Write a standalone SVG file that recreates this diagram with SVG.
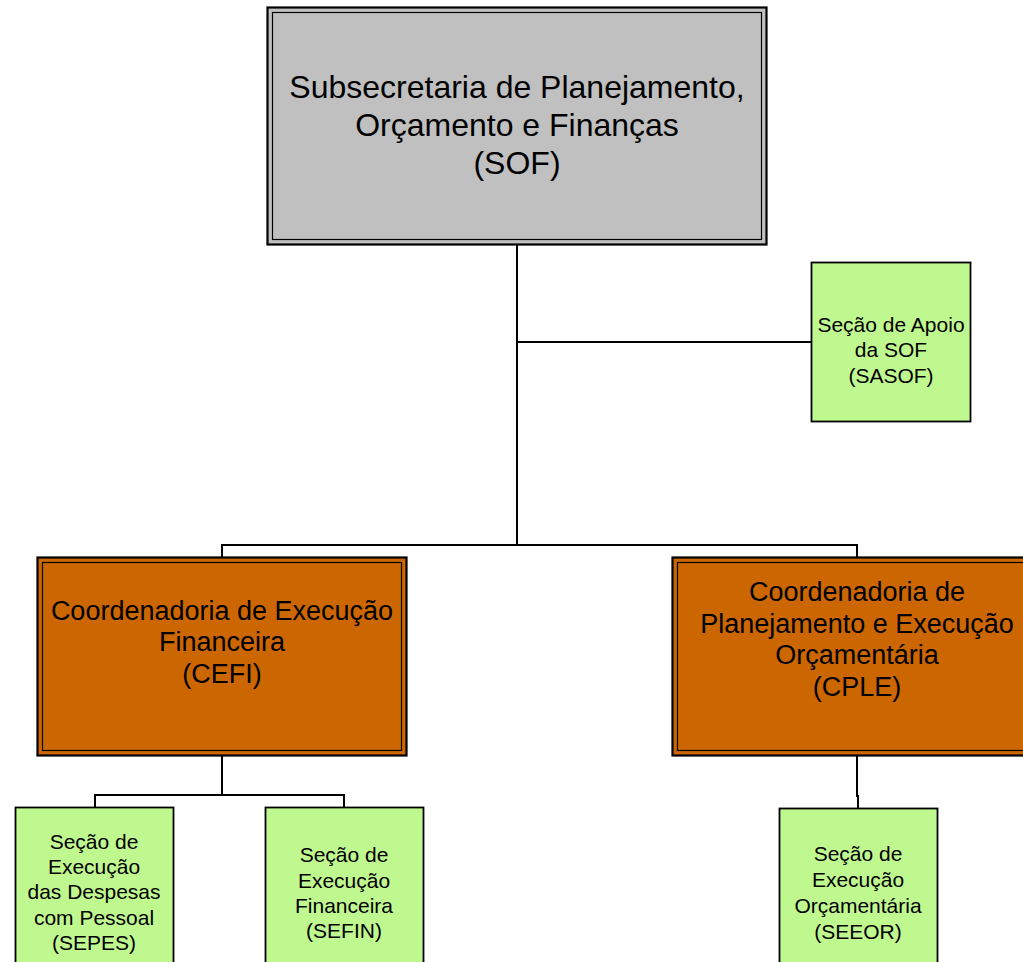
<svg xmlns="http://www.w3.org/2000/svg" width="1023" height="962" viewBox="0 0 1023 962">
<style>
  text { font-family: "Liberation Sans", Arial, sans-serif; fill: #000; text-anchor: middle; }
  .t32 { font-size: 32px; }
  .t27 { font-size: 27px; }
  .t21 { font-size: 21px; }
  .outer { stroke: #000; stroke-width: 2.2; }
  .inner { fill: none; stroke: #000; stroke-width: 1.2; }
  .gray { fill: #C0C0C0; }
  .orange { fill: #CC6600; }
  .green { fill: #C0F890; stroke: #000; stroke-width: 1.8; }
  .conn { fill: none; stroke: #000; stroke-width: 2; }
</style>
<rect width="1023" height="962" fill="#FFFFFF"/>
<g id="connectors">
  <path class="conn" d="M517 245 V545"/>
  <path class="conn" d="M517 342 H811"/>
  <path class="conn" d="M222 557 V545 H857 V557"/>
  <path class="conn" d="M222 756 V795"/>
  <path class="conn" d="M95 807 V795 H344 V807"/>
  <path class="conn" d="M857 756 V796 H858 V808"/>
</g>
<g id="sof">
  <rect class="outer gray" x="267.5" y="7.5" width="499" height="237"/>
  <rect class="inner" x="272.5" y="12.5" width="489" height="227"/>
  <text class="t32" x="517" y="98">Subsecretaria de Planejamento,</text>
  <text class="t32" x="517" y="136">Orçamento e Finanças</text>
  <text class="t32" x="517" y="174">(SOF)</text>
</g>
<g id="sasof">
  <rect class="green" x="811.5" y="262.5" width="159" height="159"/>
  <text class="t21" x="891" y="332">Seção de Apoio</text>
  <text class="t21" x="891" y="357">da SOF</text>
  <text class="t21" x="891" y="383">(SASOF)</text>
</g>
<g id="cefi">
  <rect class="outer orange" x="37.5" y="557.5" width="369" height="198"/>
  <rect class="inner" x="42.5" y="562.5" width="359" height="188"/>
  <text class="t27" x="222" y="620">Coordenadoria de Execução</text>
  <text class="t27" x="222" y="651">Financeira</text>
  <text class="t27" x="222" y="683">(CEFI)</text>
</g>
<g id="cple">
  <rect class="outer orange" x="672.5" y="557.5" width="369" height="198"/>
  <rect class="inner" x="677.5" y="562.5" width="359" height="188"/>
  <text class="t27" x="857" y="601">Coordenadoria de</text>
  <text class="t27" x="857" y="633">Planejamento e Execução</text>
  <text class="t27" x="857" y="664">Orçamentária</text>
  <text class="t27" x="857" y="696">(CPLE)</text>
</g>
<g id="sepes">
  <rect class="green" x="15.5" y="807.5" width="158" height="170"/>
  <text class="t21" x="94" y="849">Seção de</text>
  <text class="t21" x="94" y="874">Execução</text>
  <text class="t21" x="94" y="899">das Despesas</text>
  <text class="t21" x="94" y="925">com Pessoal</text>
  <text class="t21" x="94" y="950">(SEPES)</text>
</g>
<g id="sefin">
  <rect class="green" x="265.5" y="807.5" width="158" height="170"/>
  <text class="t21" x="344" y="862">Seção de</text>
  <text class="t21" x="344" y="888">Execução</text>
  <text class="t21" x="344" y="913">Financeira</text>
  <text class="t21" x="344" y="938">(SEFIN)</text>
</g>
<g id="seeor">
  <rect class="green" x="779.5" y="808.5" width="158" height="170"/>
  <text class="t21" x="858" y="861">Seção de</text>
  <text class="t21" x="858" y="887">Execução</text>
  <text class="t21" x="858" y="913">Orçamentária</text>
  <text class="t21" x="858" y="939">(SEEOR)</text>
</g>
</svg>
